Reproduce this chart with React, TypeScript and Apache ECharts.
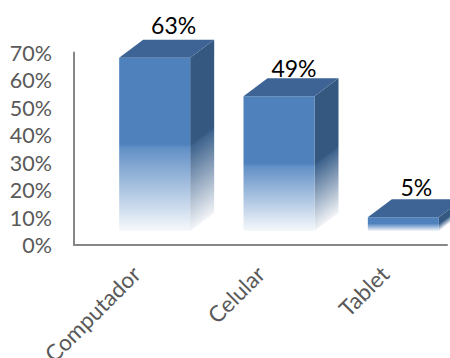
import React, { useEffect, useRef } from "react";
import * as echarts from "echarts";

const categories = ["Computador", "Celular", "Tablet"];
const shares = [63, 49, 5];
const FONT = "Lato, 'Open Sans', sans-serif";

// Pseudo-3D extrusion of each column, in pixels.
const BAR_WIDTH = 71;
const BAR_SHIFT = 18.5;
const FLOOR_LIFT = 14;
const DEPTH_X = 24;
const DEPTH_Y = 18;

// Hand placement of the value labels above each column.
const LABEL_DX = [19, 15, 13];
const LABEL_DY = [-15, -10, -12];

const fade = (solid: string, mid: string, end: string) => [
  { offset: 0, color: solid },
  { offset: 0.5, color: solid },
  { offset: 0.52, color: mid },
  { offset: 1, color: end },
];

function renderColumn(params: any, api: any) {
  const value = api.value(1);
  const [cx, yTop] = api.coord([api.value(0), value]);
  const [, yBase] = api.coord([api.value(0), 0]);
  const x0 = cx + BAR_SHIFT - BAR_WIDTH / 2;
  const x1 = x0 + BAR_WIDTH;
  const top = yTop - FLOOR_LIFT;
  const bottom = yBase - FLOOR_LIFT;
  const h = bottom - top;
  return {
    type: "group",
    children: [
      {
        type: "polygon",
        shape: {
          points: [
            [x1, top],
            [x1 + DEPTH_X, top - DEPTH_Y],
            [x1 + DEPTH_X, bottom - DEPTH_Y],
            [x1, bottom],
          ],
        },
        style: {
          fill: {
            type: "linear",
            global: true,
            x: x1,
            y: top,
            x2: x1 + h * 0.8 * 0.6,
            y2: top + h * 0.8 * 0.8,
            colorStops: fade("#34587f", "#3f648e", "#f2f4f7"),
          },
        },
      },
      {
        type: "rect",
        shape: { x: x0, y: top, width: BAR_WIDTH, height: h },
        style: {
          fill: {
            type: "linear",
            x: 0,
            y: 0,
            x2: 0,
            y2: 1,
            colorStops: fade("#4f81bd", "#6290c6", "#f6f9fc"),
          },
        },
      },
      {
        type: "polygon",
        shape: {
          points: [
            [x0, top],
            [x0 + DEPTH_X, top - DEPTH_Y],
            [x1 + DEPTH_X, top - DEPTH_Y],
            [x1, top],
          ],
        },
        style: { fill: "#3d6494" },
      },
      {
        type: "text",
        x: cx + BAR_SHIFT + LABEL_DX[params.dataIndex],
        y: top - DEPTH_Y + LABEL_DY[params.dataIndex],
        style: {
          text: `${value}%`,
          fill: "#000000",
          fontFamily: FONT,
          fontSize: 23,
          align: "center",
          verticalAlign: "middle",
        },
      },
    ],
  };
}

export default function App() {
  const ref = useRef<HTMLDivElement>(null);

  useEffect(() => {
    const chart = echarts.init(ref.current!, undefined, { renderer: "svg" });
    chart.setOption({
      animation: false,
      backgroundColor: "#ffffff",
      grid: {
        left: 74,
        right: 3,
        top: 52.5,
        bottom: 113,
        outerBoundsMode: "none",
      },
      xAxis: {
        type: "category",
        data: categories,
        axisLine: { lineStyle: { color: "#868686", width: 2 } },
        axisTick: { show: false },
        axisLabel: {
          rotate: 45,
          margin: 25,
          interval: 0,
          color: "#595959",
          fontFamily: FONT,
          fontSize: 22.5,
        },
      },
      yAxis: {
        type: "value",
        min: 0,
        max: 70,
        interval: 10,
        splitLine: { show: false },
        axisLine: { show: true, lineStyle: { color: "#868686", width: 2 } },
        axisTick: { show: false },
        axisLabel: {
          margin: 22,
          color: "#595959",
          fontFamily: FONT,
          fontSize: 21.5,
          formatter: "{value}%",
          padding: [4, 0, 0, 0],
        },
      },
      series: [
        {
          type: "custom",
          clip: false,
          data: shares.map((v, i) => [i, v]),
          encode: { x: 0, y: 1 },
          renderItem: renderColumn,
        },
      ],
    });
    return () => chart.dispose();
  }, []);

  return (
    <div
      ref={ref}
      style={{ position: "absolute", left: 0, top: 0, width: 450, height: 358 }}
    />
  );
}
